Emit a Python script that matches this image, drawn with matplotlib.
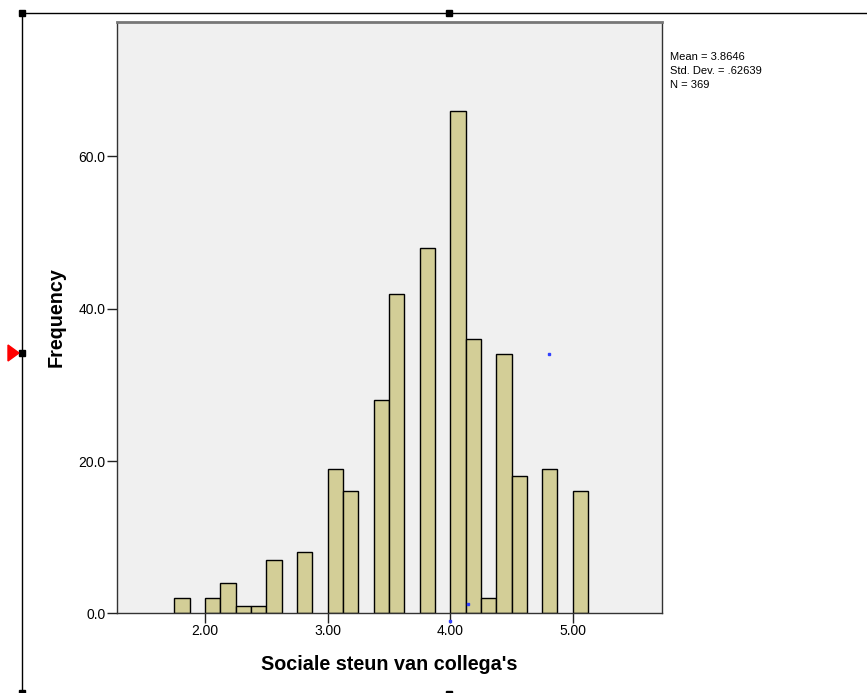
import numpy as np
import matplotlib.pyplot as plt
from matplotlib.patches import Rectangle, Polygon

# histogram bins (left edges) and frequencies
bin_left = [1.75, 2.0, 2.125, 2.25, 2.375, 2.5, 2.75, 3.0, 3.125, 3.375,
            3.5, 3.75, 4.0, 4.125, 4.25, 4.375, 4.5, 4.75, 5.0]
freq = [2, 2, 4, 1, 1, 7, 8, 19, 16, 28, 42, 48, 66, 36, 2, 34, 18, 19, 16]
bin_width = 0.125

x_ticks = [2, 3, 4, 5]
x_tick_labels = ['2.00', '3.00', '4.00', '5.00']
y_ticks = [0, 20, 40, 60]
y_tick_labels = ['0.0', '20.0', '40.0', '60.0']

stats = ['Mean = 3.8646', 'Std. Dev. = .62639', 'N = 369']

plt.rcParams['font.family'] = ['Liberation Sans', 'DejaVu Sans']

W, H = 867, 693
fig = plt.figure(figsize=(W / 100, H / 100), dpi=100)
fig.patch.set_facecolor('white')

ax = fig.add_axes([116.7 / W, 1 - 613.3 / H, (661.7 - 116.7) / W, (613.3 - 21.7) / H])
ax.set_facecolor('#f0f0f0')
ax.bar(bin_left, freq, width=bin_width, align='edge', color='#d3ce97',
       edgecolor='black', linewidth=1.0, zorder=2)

ax.set_xlim(1.28, 5.725)
ax.set_ylim(0, 77.7)
ax.set_xticks(x_ticks)
ax.set_xticklabels(x_tick_labels, fontsize=10)
ax.set_yticks(y_ticks)
ax.set_yticklabels(y_tick_labels, fontsize=10)
ax.tick_params(direction='out', length=7, width=1, color='#222222', pad=1)

for side in ['left', 'right', 'bottom']:
    ax.spines[side].set_color('#333333')
    ax.spines[side].set_linewidth(1)
ax.spines['top'].set_color('#777777')
ax.spines['top'].set_linewidth(2)

ax.set_xlabel("Sociale steun van collega's", fontsize=14.2, fontweight='bold', labelpad=12)
ax.set_ylabel('Frequency', fontsize=14.2, fontweight='bold', labelpad=9)

# summary statistics
for i, s in enumerate(stats):
    fig.text(670 / W, 1 - (57 + 14 * i) / H, s, fontsize=8, va='center', ha='left')

# chart editor frame
fig.add_artist(plt.Line2D([22 / W, 1], [1 - 13 / H, 1 - 13 / H], color='black', lw=1))
fig.add_artist(plt.Line2D([22 / W, 22 / W], [0, 1 - 13 / H], color='black', lw=1))
for (px, py) in [(22, 13), (449, 13), (22, 353)]:
    fig.add_artist(Rectangle(((px - 3) / W, 1 - (py + 3) / H), 6 / W, 6 / H,
                             color='black', transform=fig.transFigure))
fig.add_artist(Rectangle((19 / W, 0), 6 / W, 3 / H, color='black', transform=fig.transFigure))
fig.add_artist(Rectangle((446 / W, 0), 6 / W, 2 / H, color='black', transform=fig.transFigure))
fig.add_artist(Polygon([(8 / W, 1 - 345 / H), (19 / W, 1 - 353 / H), (8 / W, 1 - 361 / H)],
                       closed=True, color='red', transform=fig.transFigure))
# stray selection dots from the editor
for (px, py) in [(468, 604), (549, 354), (450, 621)]:
    fig.add_artist(Rectangle(((px - 1) / W, 1 - (py + 1) / H), 2 / W, 2 / H,
                             color='#3040ff', transform=fig.transFigure, zorder=5))

fig.savefig('out.png', dpi=100)
